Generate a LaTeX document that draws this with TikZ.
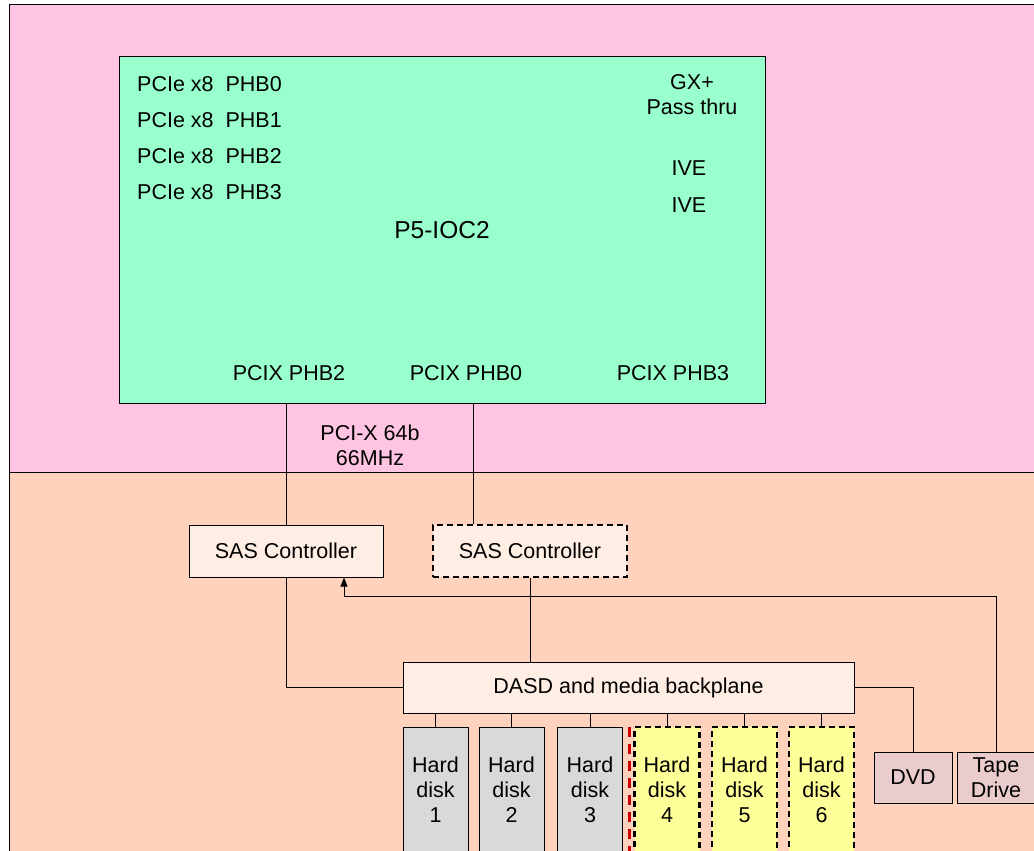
\documentclass[tikz,border=0pt]{standalone}
\usepackage{fontspec}
\setmainfont{Liberation Sans}
\usetikzlibrary{arrows.meta}

\definecolor{drawerpink}{RGB}{255,196,225}
\definecolor{cecpeach}{RGB}{255,210,190}
\definecolor{iocgreen}{RGB}{153,255,204}
\definecolor{cardfill}{RGB}{255,238,228}
\definecolor{diskgray}{RGB}{217,217,217}
\definecolor{diskyellow}{RGB}{255,255,153}
\definecolor{mediafill}{RGB}{234,204,204}

\begin{document}
\begin{tikzpicture}[
    x=1pt, y=-1pt,
    every node/.style={font=\fontsize{21.5}{25}\selectfont},
    link/.style={draw, line width=1pt},
    optline/.style={line width=2.2pt, dash pattern=on 6pt off 4pt},
    phblabel/.style={anchor=west, inner sep=0pt},
    card/.style={draw, line width=1pt, fill=cardfill, minimum width=194pt, minimum height=52pt, inner sep=0pt},
    disk/.style={draw, line width=1pt, fill=diskgray, minimum width=65pt, minimum height=126pt, inner sep=0pt, align=center},
    optdisk/.style={disk, fill=diskyellow, optline},
    media/.style={draw, line width=1pt, fill=mediafill, minimum width=78pt, minimum height=51pt, inner sep=0pt, align=center}
]
\useasboundingbox (0,0) rectangle (1034,851);
\clip (0,0) rectangle (1034,851);

% Enclosures
\draw[line width=1pt, fill=drawerpink] (9,5) rectangle (1045,472);
\draw[line width=1pt, fill=cecpeach] (9,472) rectangle (1045,870);

% P5-IOC2 hub
\node[draw, line width=1pt, fill=iocgreen, minimum width=646pt, minimum height=346pt, inner sep=0pt, font=\fontsize{24.5}{28}\selectfont] (ioc) at (442,230) {P5-IOC2};
\foreach \i/\y in {0/84,1/120,2/156,3/192}
    \node[phblabel] (pcie\i) at (137,\y) {PCIe x8\ \ PHB\i};
\node[align=center] (gx) at (692,95) {GX+\\Pass thru};
\node (ive0) at (689,168) {IVE};
\node (ive1) at (689,205) {IVE};
\node (pcix2) at (289,373) {PCIX PHB2};
\node (pcix0) at (466,373) {PCIX PHB0};
\node (pcix3) at (673,373) {PCIX PHB3};

% PCI-X bus
\node[align=center] (pcixbus) at (370,445) {PCI-X 64b\\66MHz};

% SAS controllers
\node[card] (sas1) at (286,551) {SAS Controller};
\node[card, optline] (sas2) at (530,551) {SAS Controller};
\coordinate (phbzero) at (473,403);
\draw[link] (sas1.north |- ioc.south) -- (sas1.north);
\draw[link] (phbzero) -- (phbzero |- sas2.north);

% Backplane
\node[card, minimum width=451pt, minimum height=51pt] (bp) at (628.5,687.5) {DASD and media backplane};
\draw[link] (sas1.south) -- (sas1.south |- bp.west) -- (bp.west);
\draw[link] (sas2.south) -- (sas2.south |- bp.north);

% Disks
\foreach \i/\x in {1/435.5,2/511.5,3/590}
    \node[disk] (disk\i) at (\x,790) {Hard\\disk\\\i};
\foreach \i/\x in {4/667,5/744.5,6/821.5}
    \node[optdisk] (disk\i) at (\x,790) {Hard\\disk\\\i};
\foreach \i in {1,...,6}
    \draw[link] (disk\i.north) -- (disk\i.north |- bp.south);
\draw[red!80!black, line width=3pt, dash pattern=on 10pt off 7pt] (629.5,727) -- (629.5,860);

% Media
\node[media] (dvd) at (913,777.5) {DVD};
\node[media] (tape) at (996,777.5) {Tape\\Drive};
\draw[link] (bp.east) -| (dvd.north);
\coordinate (sasin) at (344,596);
\draw[link, -{Triangle[length=9pt, width=7pt]}] (tape.north) |- (sasin) -- (sasin |- sas1.south);

\end{tikzpicture}
\end{document}
